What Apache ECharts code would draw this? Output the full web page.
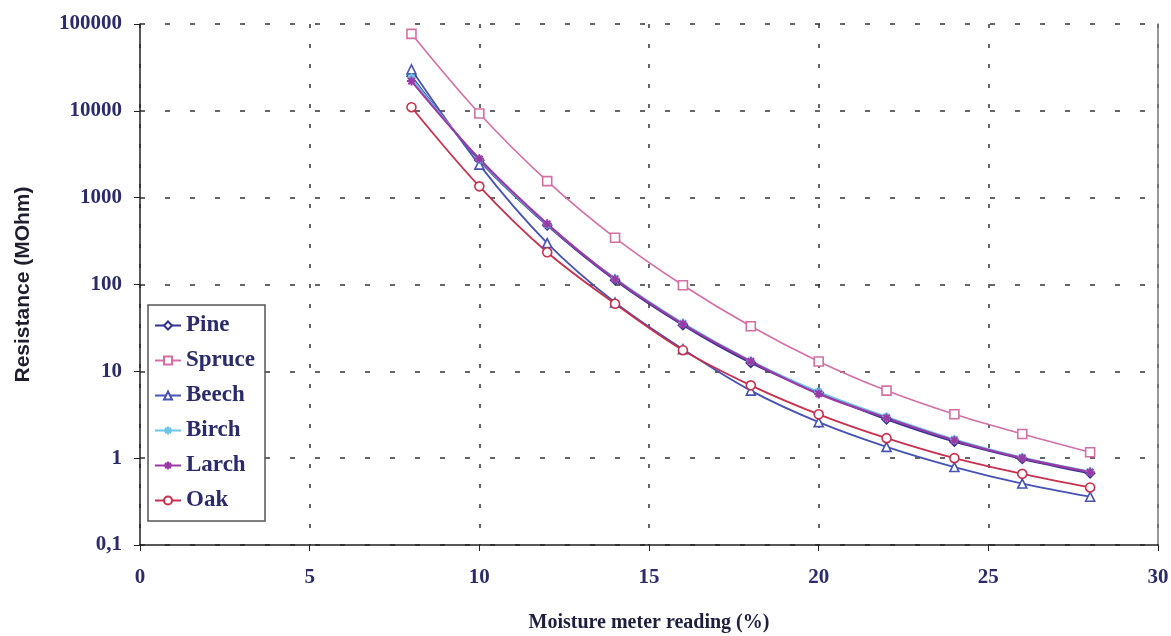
<!DOCTYPE html>
<html>
<head>
<meta charset="utf-8">
<script src="https://cdn.jsdelivr.net/npm/echarts@6/dist/echarts.min.js"></script>
<style>
  html, body { margin: 0; padding: 0; background: #fff; }
  #chart { width: 1171px; height: 636px; }
</style>
</head>
<body>
<div id="chart"></div>
<script>
// moisture readings (%)
var moisture = [8, 10, 12, 14, 16, 18, 20, 22, 24, 26, 28];
// resistance (MOhm) per species
var pine   = [25000, 2700, 480, 112, 34, 12.5, 5.7, 2.8, 1.55, 0.98, 0.67];
var spruce = [77000, 9300, 1550, 345, 98, 33, 13, 6, 3.2, 1.9, 1.17];
var beech  = [30000, 2400, 300, 62, 18, 6, 2.6, 1.35, 0.79, 0.51, 0.36];
var birch  = [24000, 2750, 490, 118, 36, 13.2, 5.8, 3.0, 1.65, 1.02, 0.70];
var larch  = [22000, 2800, 500, 115, 35, 13, 5.5, 2.9, 1.6, 1.0, 0.69];
var oak    = [11000, 1350, 235, 60, 17.5, 6.9, 3.2, 1.7, 1.0, 0.66, 0.46];

var names = ['Pine', 'Spruce', 'Beech', 'Birch', 'Larch', 'Oak'];
var colors = ['#30308e', '#d46fa6', '#4653b4', '#6cc4e6', '#9a3aa6', '#c8304e'];
var asterisk = 'path://M0,-1L0,1M-1,0L1,0M-0.7,-0.7L0.7,0.7M-0.7,0.7L0.7,-0.7';

function pairs(vals) {
    var out = [];
    for (var i = 0; i < moisture.length; i++) out.push([moisture[i], vals[i]]);
    return out;
}

function mkSeries(name, vals, color, symbol, hollow, width) {
    return {
        name: name,
        type: 'line',
        data: pairs(vals),
        smooth: 0.35,
        symbol: symbol,
        symbolSize: 9,
        showSymbol: true,
        lineStyle: { color: color, width: width },
        itemStyle: hollow
            ? { color: '#fff', borderColor: color, borderWidth: 1.6 }
            : { color: color, borderColor: color, borderWidth: 2 },
        color: color
    };
}

var chart = echarts.init(document.getElementById('chart'));
var serif = 'Liberation Serif';
var tickColor = '#2b2b6b';

chart.setOption({
    animation: false,
    grid: { left: 140, right: 13, top: 24, bottom: 91, outerBoundsMode: 'none' },
    legend: {
        orient: 'vertical',
        left: 148,
        top: 305,
        data: names,
        itemWidth: 26,
        itemHeight: 10,
        itemGap: 12,
        padding: [9, 10, 9, 6],
        backgroundColor: '#fff',
        borderColor: '#555',
        borderWidth: 1.5,
        textStyle: { fontFamily: serif, fontWeight: 'bold', fontSize: 23, color: tickColor }
    },
    xAxis: {
        type: 'value',
        min: 0,
        max: 30,
        interval: 5,
        name: 'Moisture meter reading (%)',
        nameLocation: 'middle',
        nameGap: 68,
        nameTextStyle: { fontFamily: serif, fontWeight: 'bold', fontSize: 20, color: '#1e1e3e' },
        axisLine: { show: true, lineStyle: { color: '#222', width: 1.5 } },
        axisTick: { show: true, inside: false, length: 6, lineStyle: { color: '#222' } },
        axisLabel: { fontFamily: serif, fontWeight: 'bold', fontSize: 21, color: tickColor, margin: 22 },
        splitLine: { show: true, lineStyle: { color: '#333', type: [4, 16], width: 1.5 } }
    },
    yAxis: [{
        type: 'log',
        logBase: 10,
        min: 0.1,
        max: 100000,
        name: 'Resistance (MOhm)',
        nameLocation: 'middle',
        nameGap: 106,
        nameTextStyle: { fontFamily: 'Liberation Sans', fontWeight: 'bold', fontSize: 21, color: '#1e1e2e' },
        axisLine: { show: true, lineStyle: { color: '#222', width: 1.5 } },
        axisTick: { show: true, length: 6, lineStyle: { color: '#222' } },
        axisLabel: {
            fontFamily: serif, fontWeight: 'bold', fontSize: 21, color: tickColor, margin: 18,
            formatter: function (v) { return v < 1 ? String(v).replace('.', ',') : String(v); }
        },
        splitLine: { show: true, lineStyle: { color: '#333', type: [5, 20], width: 1.5 } }
    }, {
        type: 'log',
        position: 'right',
        min: 0.1,
        max: 100000,
        axisLine: { show: true, lineStyle: { color: '#777', width: 1.5 } },
        axisTick: { show: false },
        axisLabel: { show: false },
        splitLine: { show: false }
    }],
    series: [
        mkSeries('Pine', pine, colors[0], 'diamond', true, 2),
        mkSeries('Spruce', spruce, colors[1], 'rect', true, 1.6),
        mkSeries('Beech', beech, colors[2], 'triangle', true, 1.8),
        mkSeries('Birch', birch, colors[3], asterisk, false, 1.8),
        mkSeries('Larch', larch, colors[4], asterisk, false, 2.2),
        mkSeries('Oak', oak, colors[5], 'circle', true, 1.8)
    ]
});
</script>
</body>
</html>
